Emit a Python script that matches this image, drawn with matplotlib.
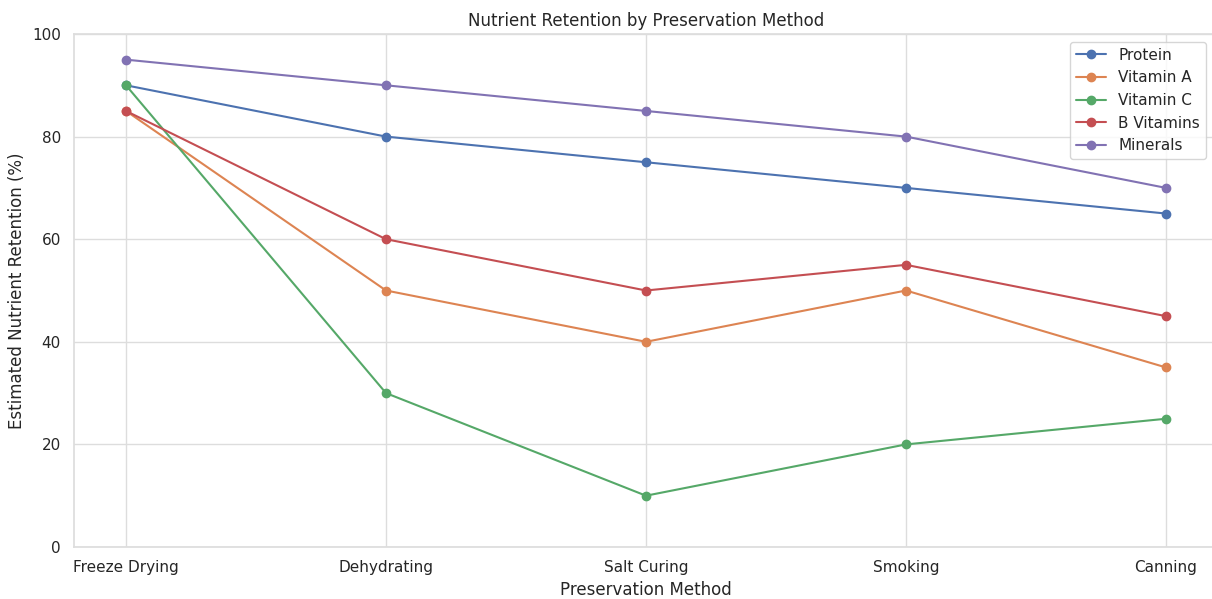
import numpy as np
import matplotlib
matplotlib.use("Agg")
import matplotlib.pyplot as plt
import seaborn as sns

methods = ["Freeze Drying", "Dehydrating", "Salt Curing", "Smoking", "Canning"]
protein = [90, 80, 75, 70, 65]
vitamin_a = [85, 50, 40, 50, 35]
vitamin_c = [90, 30, 10, 20, 25]
b_vitamins = [85, 60, 50, 55, 45]
minerals = [95, 90, 85, 80, 70]

sns.set_theme(style="whitegrid")
plt.rcParams['font.family'] = ['DejaVu Sans']

fig = plt.figure(figsize=(12.12, 5.99), dpi=100)
ax = fig.add_axes([74 / 1212, 1 - 547 / 599, 1144 / 1212, (547 - 34) / 599])

x = np.arange(len(methods))
series = [("Protein", protein), ("Vitamin A", vitamin_a), ("Vitamin C", vitamin_c),
          ("B Vitamins", b_vitamins), ("Minerals", minerals)]
for name, vals in series:
    ax.plot(x, vals, marker="o", markersize=6, linewidth=1.5, label=name)

ax.grid(color="#dddddd")
for s in ax.spines.values():
    s.set_color("#dddddd")

ax.set_xticks(x)
ax.set_xticklabels(methods)
ax.set_ylim(0, 100)
ax.set_title("Nutrient Retention by Preservation Method")
ax.set_xlabel("Preservation Method")
ax.set_ylabel("Estimated Nutrient Retention (%)")
ax.legend(loc="upper right", bbox_to_anchor=(0.9965, 1.0))

fig.savefig("out.png", dpi=100)
